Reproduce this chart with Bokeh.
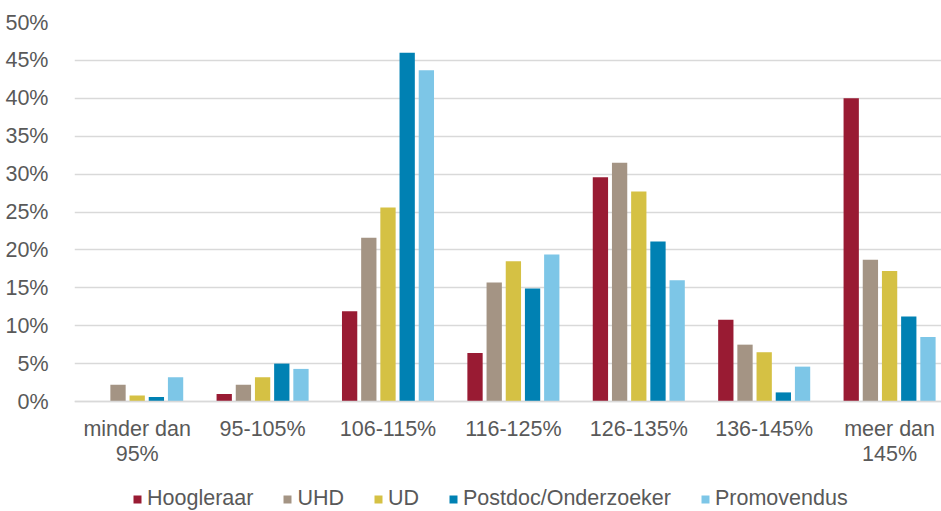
import numpy as np
from bokeh.plotting import figure
from bokeh.models import Range1d, FixedTicker, Legend, LegendItem, Span
from bokeh.core.properties import value
from bokeh.embed import file_html
from bokeh.resources import INLINE

categories = ["minder dan\n95%", "95-105%", "106-115%", "116-125%", "126-135%", "136-145%", "meer dan\n145%"]
series_names = ["Hoogleraar", "UHD", "UD", "Postdoc/Onderzoeker", "Promovendus"]
hoogleraar = [0.0, 1.0, 11.9, 6.4, 29.6, 10.8, 40.0]
uhd = [2.2, 2.2, 21.6, 15.7, 31.5, 7.5, 18.7]
ud = [0.8, 3.2, 25.6, 18.5, 27.7, 6.5, 17.2]
postdoc = [0.6, 5.0, 46.0, 14.9, 21.1, 1.2, 11.2]
promovendus = [3.2, 4.3, 43.7, 19.4, 16.0, 4.6, 8.5]
colors = ["#991b33", "#a49484", "#d5c144", "#0081b3", "#7dc6e7"]
y_ticks = [0, 5, 10, 15, 20, 25, 30, 35, 40, 45, 50]

all_series = [hoogleraar, uhd, ud, postdoc, promovendus]

FONT = "Liberation Sans"
TXT = "#595959"
GRID = "#d9d9d9"

# layout: value area 379 px tall, extra 110 px below zero for labels and legend
plot_h = 379
extra_h = 110
px_per_unit = plot_h / 50.0
y_min = -extra_h / px_per_unit

p = figure(frame_width=867, frame_height=plot_h + extra_h, output_backend="svg",
           toolbar_location=None, x_axis_location=None,
           x_range=Range1d(-0.5, 6.414), y_range=Range1d(y_min, 50),
           min_border_left=74, min_border_right=0, min_border_top=22, min_border_bottom=0)
p.outline_line_color = None
p.background_fill_color = "white"

x = np.arange(len(categories))
step = 0.153
width = 0.122
items = []
for i, (name, vals, col) in enumerate(zip(series_names, all_series, colors)):
    r = p.vbar(x=x + (i - 2) * step, top=vals, width=width, fill_color=col, line_color=None)
    items.append(LegendItem(label=name, renderers=[r]))

# baseline (x axis line)
p.add_layout(Span(location=0, dimension="width", line_color=GRID, line_width=1.5))

# category labels (two lines where wrapped)
line1 = [c.split("\n")[0] for c in categories]
line2 = [c.split("\n")[1] if "\n" in c else "" for c in categories]
p.text(x=x, y=-27 / px_per_unit, text=line1, text_align="center", text_baseline="middle",
       text_font=value(FONT), text_font_size="21.5px", text_color=TXT)
p.text(x=x, y=-52 / px_per_unit, text=line2, text_align="center", text_baseline="middle",
       text_font=value(FONT), text_font_size="21.5px", text_color=TXT)

p.yaxis.ticker = FixedTicker(ticks=y_ticks)
p.yaxis.major_label_overrides = {t: f"{t}%" for t in y_ticks}
p.yaxis.major_tick_line_color = None
p.yaxis.minor_tick_line_color = None
p.yaxis.axis_line_color = None
p.yaxis.major_label_standoff = 20
p.yaxis.major_label_text_font = FONT
p.yaxis.major_label_text_font_size = "21.5px"
p.yaxis.major_label_text_color = TXT

p.xgrid.grid_line_color = None
p.ygrid.ticker = FixedTicker(ticks=y_ticks)
p.ygrid.grid_line_color = GRID
p.ygrid.grid_line_width = 1.5

legend = Legend(items=items, orientation="horizontal", location=(58, 0),
                glyph_width=10, glyph_height=10, label_standoff=5, spacing=29,
                padding=0, margin=0, border_line_color=None, background_fill_alpha=0,
                label_text_font=FONT, label_text_font_size="21.5px", label_text_color=TXT)
p.add_layout(legend, "center")

open("out.html", "w").write(file_html(p, INLINE))
